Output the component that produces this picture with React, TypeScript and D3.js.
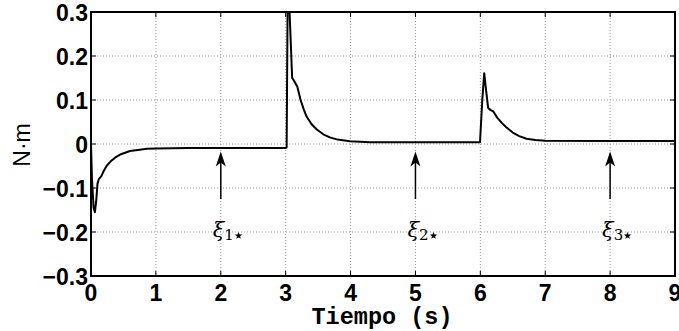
import React from "react";
import * as d3 from "d3";

const timeS: number[] = [
  0, 0.015, 0.04, 0.06, 0.08, 0.1, 0.12, 0.16, 0.2, 0.24, 0.3, 0.37, 0.45, 0.6, 0.75, 0.86, 1.0, 1.5, 2.0, 2.5,
  3.0, 3.015, 3.03, 3.045, 3.06, 3.1, 3.12, 3.15, 3.18, 3.23, 3.28, 3.32, 3.4, 3.48, 3.58, 3.68, 3.8, 3.99, 4.3, 5.0,
  5.995, 6.03, 6.06, 6.09, 6.12, 6.16, 6.2, 6.26, 6.33, 6.4, 6.5, 6.6, 6.71, 6.85, 7.0, 8.0, 9.0,
];
const torque: number[] = [
  0, -0.08, -0.145, -0.155, -0.13, -0.09, -0.08, -0.073, -0.06, -0.05, -0.04, -0.031, -0.024, -0.016, -0.013, -0.011, -0.01, -0.009, -0.009, -0.009,
  -0.009, -0.008, 0.32, 0.4, 0.3, 0.15, 0.146, 0.138, 0.13, 0.1, 0.078, 0.063, 0.045, 0.033, 0.022, 0.015, 0.01, 0.006, 0.004, 0.004,
  0.004, 0.1, 0.161, 0.12, 0.082, 0.077, 0.074, 0.06, 0.048, 0.038, 0.026, 0.018, 0.012, 0.009, 0.0075, 0.007, 0.007,
];
const xTicks: number[] = [0, 1, 2, 3, 4, 5, 6, 7, 8, 9];
const yTicks: number[] = [-0.3, -0.2, -0.1, 0, 0.1, 0.2, 0.3];
const yTickLabels: string[] = ["\u22120.3", "\u22120.2", "\u22120.1", "0", "0.1", "0.2", "0.3"];
const arrowTimes: number[] = [2, 5, 8];
const arrowSubs: string[] = ["1", "2", "3"];

export default function App() {
  const W = 679, H = 331;
  const L = 91, R = 675, T = 12, B = 276;
  const x = d3.scaleLinear().domain([0, 9]).range([L, R]);
  const y = d3.scaleLinear().domain([-0.3, 0.3]).range([B, T]);
  const pts: [number, number][] = timeS.map((t, i) => [t, torque[i]]);
  const line = d3.line<[number, number]>().x(d => x(d[0])).y(d => y(d[1]));
  const tickFont = "'Liberation Sans', Arial, sans-serif";
  return (
    <svg width={W} height={H} style={{ position: "absolute", left: 0, top: 0, background: "#fff" }}>
      <defs>
        <clipPath id="plotclip">
          <rect x={L} y={T} width={R - L} height={B - T} />
        </clipPath>
      </defs>
      <rect x={0} y={0} width={W} height={H} fill="#fff" />
      {/* grid */}
      {xTicks.slice(1, -1).map(t => (
        <line key={"gx" + t} x1={x(t)} x2={x(t)} y1={T} y2={B} stroke="#999" strokeWidth={1} strokeDasharray="1,2" />
      ))}
      {yTicks.slice(1, -1).map(t => (
        <line key={"gy" + t} x1={L} x2={R} y1={y(t)} y2={y(t)} stroke="#999" strokeWidth={1} strokeDasharray="1,2" />
      ))}
      {/* ticks */}
      {xTicks.map(t => (
        <g key={"tx" + t}>
          <line x1={x(t)} x2={x(t)} y1={B} y2={B - 5} stroke="#000" strokeWidth={1} />
          <line x1={x(t)} x2={x(t)} y1={T} y2={T + 5} stroke="#000" strokeWidth={1} />
        </g>
      ))}
      {yTicks.map(t => (
        <g key={"ty" + t}>
          <line x1={L} x2={L + 5} y1={y(t)} y2={y(t)} stroke="#000" strokeWidth={1} />
          <line x1={R} x2={R - 5} y1={y(t)} y2={y(t)} stroke="#000" strokeWidth={1} />
        </g>
      ))}
      {/* curve */}
      <path d={line(pts) || ""} fill="none" stroke="#000" strokeWidth={2} strokeLinejoin="round" clipPath="url(#plotclip)" />
      {/* frame */}
      <rect x={L} y={T} width={R - L} height={B - T} fill="none" stroke="#000" strokeWidth={2} />
      {/* tick labels */}
      {xTicks.map(t => (
        <text key={"lx" + t} x={x(t)} y={301} textAnchor="middle" fontFamily={tickFont} fontWeight="bold" fontSize={23} fill="#000">
          {t}
        </text>
      ))}
      {yTicks.map((t, i) => (
        <text key={"ly" + t} x={88} y={y(t) + 8.5} textAnchor="end" fontFamily={tickFont} fontWeight="bold" fontSize={23} fill="#000">
          {yTickLabels[i]}
        </text>
      ))}
      {/* axis labels */}
      <text x={382} y={324} textAnchor="middle" fontFamily="'Liberation Mono', 'Courier New', monospace" fontWeight="bold" fontSize={23.5} fill="#000">
        Tiempo (s)
      </text>
      <text transform="translate(30,145) rotate(-90)" textAnchor="middle" fontFamily={tickFont} fontSize={23} fill="#000">
        N·m
      </text>
      {/* arrows */}
      {arrowTimes.map((t, i) => {
        const ax = x(t);
        const tip = y(-0.017);
        const tail = y(-0.125);
        return (
          <g key={"ar" + t}>
            <line x1={ax} x2={ax} y1={tail} y2={tip + 10} stroke="#000" strokeWidth={1.5} />
            <path d={`M${ax},${tip} L${ax + 5},${tip + 15} L${ax},${tip + 11} L${ax - 5},${tip + 15} Z`} fill="#000" />
            <text x={ax - 8} y={237} fontFamily="'DejaVu Serif', 'Liberation Serif', serif" fontSize={21} fill="#000">
              <tspan fontStyle="italic">ξ</tspan>
              <tspan fontSize={15} dy={3}>{arrowSubs[i]}</tspan>
              <tspan fontSize={10} dy={-1}>★</tspan>
            </text>
          </g>
        );
      })}
    </svg>
  );
}
